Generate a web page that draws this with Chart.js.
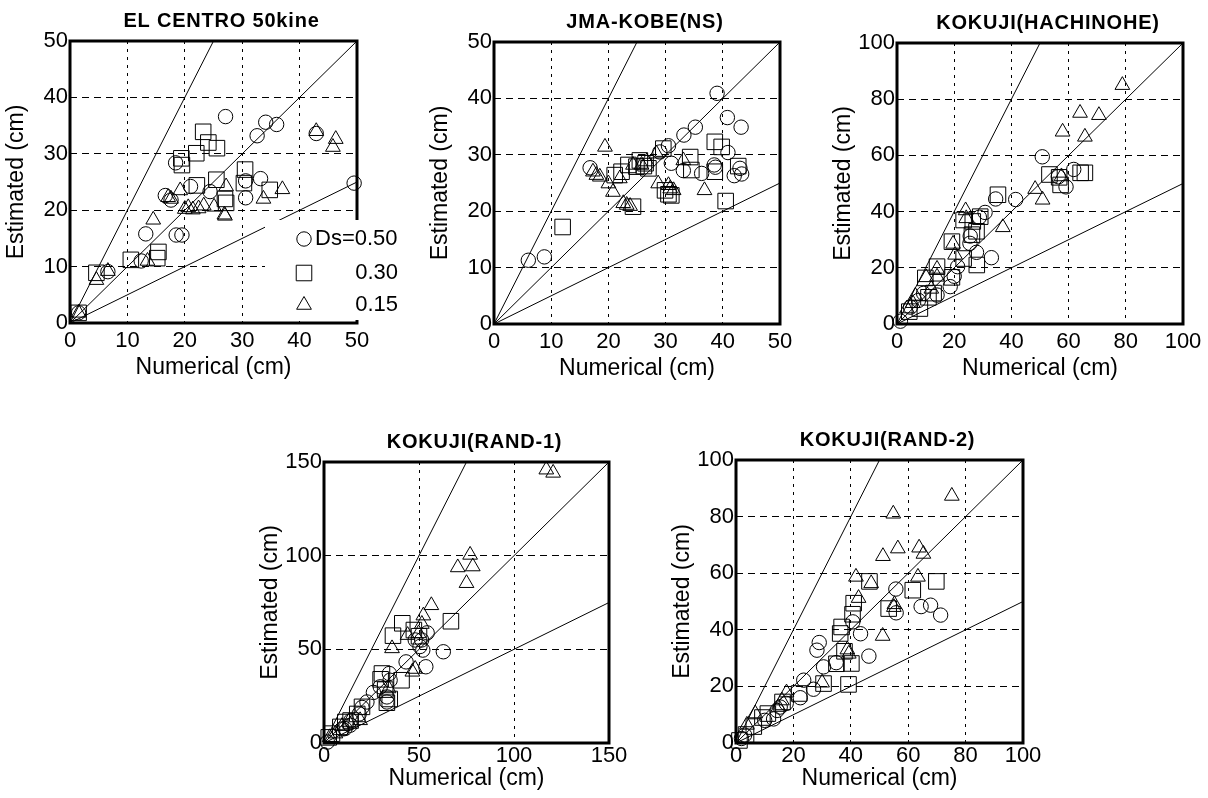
<!DOCTYPE html>
<html>
<head>
<meta charset="utf-8">
<script src="https://cdn.jsdelivr.net/npm/chart.js@4.4.0/dist/chart.umd.min.js"></script>
<style>
	body { margin: 0; background: #fff; width: 1208px; height: 798px; position: relative; overflow: hidden; }
	canvas { position: absolute; }
</style>
</head>
<body>
<canvas id="c1"></canvas>
<canvas id="c2"></canvas>
<canvas id="c3"></canvas>
<canvas id="c4"></canvas>
<canvas id="c5"></canvas>
<script>
// legend labels and the ratio lines (estimated = slope * numerical)
const dsLabels = ["Ds=0.50", "0.30", "0.15"]
const refSlopes = [2, 1, 0.5]

// EL CENTRO 50kine  [numerical, estimated]
const elc050 = [[27.1,36.6],[34.1,35.6],[36.0,35.2],[32.6,33.2],[42.9,33.6],[49.5,24.8],[33.2,25.6],[30.6,25.2],[30.6,22.2],[18.4,28.4],[21.0,24.2],[24.4,23.3],[16.6,22.6],[17.6,21.8],[13.2,15.8],[18.5,15.6],[19.5,15.6],[12.4,11.0],[6.6,9.1],[1.5,1.8]]
const elc030 = [[23.2,33.9],[24.1,32.0],[25.6,31.0],[22.0,30.1],[19.4,29.2],[19.5,28.0],[30.5,27.2],[30.3,24.8],[25.5,25.4],[22.1,24.4],[34.8,23.6],[27.0,22.0],[27.2,21.3],[15.4,12.6],[15.2,11.5],[10.6,11.2],[4.6,8.9],[1.5,1.8]]
const elc015 = [[42.9,34.0],[46.3,32.6],[45.8,31.2],[37.0,23.7],[33.7,22.0],[27.2,24.2],[26.9,19.2],[27.0,19.0],[25.1,20.6],[23.3,20.8],[22.4,20.3],[21.4,20.1],[20.6,20.5],[20.0,20.2],[19.2,23.5],[17.1,22.3],[17.6,22.0],[14.5,18.3],[13.5,11.0],[6.6,9.2],[4.6,7.6],[1.5,1.8]]

// JMA-KOBE(NS)
const kobe050 = [[6.0,11.3],[8.8,11.9],[16.8,27.7],[29.0,30.5],[30.5,31.6],[31.0,28.5],[33.2,33.5],[35.2,34.9],[33.1,27.2],[36.3,26.7],[39.0,40.9],[40.8,36.6],[43.2,34.9],[40.9,30.4],[38.7,27.8],[38.5,28.2],[42.0,26.3],[43.0,27.6],[43.3,26.6]]
const kobe030 = [[12.0,17.2],[40.5,21.8],[38.6,32.3],[39.8,31.4],[34.3,29.6],[34.5,27.3],[42.7,28.0],[38.6,27.0],[29.6,31.1],[25.5,29.0],[24.9,27.9],[26.2,28.0],[27.0,27.6],[26.5,28.5],[23.5,28.2],[22.3,27.0],[21.1,26.4],[24.3,20.8],[29.9,23.7],[31.0,22.8],[30.5,23.0]]
const kobe015 = [[19.4,31.4],[17.3,27.0],[17.9,26.4],[18.5,26.1],[20.0,24.9],[20.8,23.4],[22.0,25.8],[22.6,21.4],[23.2,21.1],[23.8,20.9],[24.3,28.2],[25.8,28.2],[26.7,28.8],[28.4,30.2],[28.7,24.9],[30.5,24.6],[30.8,24.0],[31.4,23.7],[33.1,29.0],[36.8,23.7]]

// KOKUJI(HACHINOHE)
const hachi050 = [[50.8,59.5],[61.8,55.0],[34.5,44.5],[41.5,44.3],[30.8,39.7],[28.8,38.0],[25.6,31.3],[25.5,28.7],[27.8,25.5],[33.0,23.6],[21.2,20.4],[18.6,13.3],[59.1,48.8],[56.4,52.4],[20.0,17.0],[14.0,10.3],[9.3,10.9],[7.5,8.4],[4.7,6.0],[1.2,1.0]]
const hachi030 = [[64.2,53.8],[65.7,53.8],[53.3,53.2],[57.2,49.5],[56.7,52.2],[35.3,46.0],[29.1,38.2],[23.3,37.0],[26.5,36.5],[26.2,31.8],[27.8,33.0],[19.2,29.3],[27.9,21.0],[23.3,23.3],[14.0,20.4],[19.2,16.6],[9.9,16.4],[12.8,11.0],[11.0,9.5],[8.0,5.5],[4.3,4.4]]
const hachi015 = [[78.8,85.0],[64.0,75.1],[70.6,74.3],[57.9,68.4],[65.7,66.6],[48.3,48.0],[50.9,44.2],[37.0,34.4],[24.0,40.4],[24.2,37.6],[19.6,28.5],[20.3,24.6],[14.0,19.6],[14.0,16.8],[10.2,16.6],[12.0,12.5],[6.4,10.0],[5.5,7.4],[3.5,5.5],[57.5,52.5]]

// KOKUJI(RAND-1)
const rand1050 = [[62.8,48.7],[53.6,40.7],[52.0,49.6],[51.4,55.0],[54.3,58.8],[48.0,55.0],[50.5,51.5],[43.2,43.3],[34.4,37.1],[34.8,33.5],[33.1,24.6],[33.1,21.9],[29.6,30.0],[26.0,27.0],[22.6,21.9],[20.0,19.0],[18.5,15.5],[14.2,12.0],[13.8,9.5],[11.0,7.7],[9.5,7.5],[1.8,0.5]]
const rand1030 = [[66.8,65.0],[41.2,63.9],[36.3,57.3],[47.3,60.3],[50.0,57.0],[40.8,33.5],[30.5,37.1],[29.8,34.0],[32.2,28.5],[33.1,21.5],[34.6,23.5],[20.0,19.3],[17.5,15.5],[14.0,12.0],[11.2,11.2],[8.6,8.6],[4.2,5.0],[2.5,3.0]]
const rand1015 = [[117.0,145.9],[120.6,144.2],[76.9,100.4],[70.4,93.7],[78.3,94.2],[75.0,85.3],[56.5,73.5],[52.3,68.0],[51.5,63.5],[49.8,58.5],[44.0,57.6],[35.8,50.5],[48.0,39.5],[46.5,38.0],[34.0,29.1],[19.0,12.1],[13.0,11.2],[9.5,9.0],[6.0,5.0],[3.0,3.0]]

// KOKUJI(RAND-2)
const rand2050 = [[55.7,54.4],[55.8,46.0],[64.5,48.2],[67.8,48.7],[71.3,45.2],[40.7,42.8],[43.4,38.6],[29.0,35.5],[28.2,32.8],[46.3,30.7],[34.9,28.4],[30.5,26.9],[23.6,22.2],[27.0,19.0],[22.4,16.0],[17.5,14.0],[15.4,12.7],[14.3,11.5],[13.1,8.5],[10.0,8.0],[3.0,2.8],[1.9,1.6]]
const rand2030 = [[69.8,57.1],[61.6,54.0],[53.2,47.5],[46.5,57.1],[41.0,49.4],[40.6,45.5],[36.8,41.0],[36.3,38.7],[37.8,32.4],[40.2,28.1],[39.2,20.7],[30.5,21.0],[35.0,28.0],[22.0,17.5],[16.2,14.5],[11.1,10.4],[9.2,9.0],[6.2,5.8],[3.5,3.0],[1.2,0.9]]
const rand2015 = [[75.2,87.3],[54.8,81.0],[56.4,68.7],[51.2,66.0],[63.8,69.0],[65.3,66.8],[63.4,58.7],[41.8,58.7],[47.1,56.4],[42.7,51.2],[55.2,49.0],[55.0,48.0],[51.1,37.8],[38.8,33.0],[39.3,31.5],[30.0,21.3],[17.6,17.8],[16.0,15.0],[14.8,12.7],[6.7,10.4],[3.8,6.4]]

const FONT = "'Liberation Sans', Arial, sans-serif"

// panel setup: plot box on the page [left, top, right, bottom]
const panels = [
	{id: "c1", title: "EL CENTRO 50kine", max: 50, step: 10, series: [elc050, elc030, elc015], box: [70, 41, 357, 323], top: true, legend: true},
	{id: "c2", title: "JMA-KOBE(NS)", max: 50, step: 10, series: [kobe050, kobe030, kobe015], box: [494, 42, 780, 324], top: true},
	{id: "c3", title: "KOKUJI(HACHINOHE)", max: 100, step: 20, series: [hachi050, hachi030, hachi015], box: [897, 43, 1183, 324], top: true},
	{id: "c4", title: "KOKUJI(RAND-1)", max: 150, step: 50, series: [rand1050, rand1030, rand1015], box: [324, 462, 609, 743]},
	{id: "c5", title: "KOKUJI(RAND-2)", max: 100, step: 20, series: [rand2050, rand2030, rand2015], box: [736, 460, 1023, 743]}
]

const markers = [
	{style: "circle", r: 7.2},
	{style: "rect", r: 11},
	{style: "triangle", r: 8.5}
]

const Y_W = 70, PAD_T = 40

// draw a hollow marker by hand (used for the legend)
drawMarker = (ctx, style, x, y, r) => {
	ctx.beginPath()
	if (style === "circle") {
		ctx.arc(x, y, r, 0, Math.PI * 2)
	} else if (style === "rect") {
		const s = r * Math.SQRT1_2
		ctx.rect(x - s, y - s, 2 * s, 2 * s)
	} else {
		ctx.moveTo(x, y - r)
		ctx.lineTo(x + r * Math.sin(Math.PI * 2 / 3), y - r * Math.cos(Math.PI * 2 / 3))
		ctx.lineTo(x + r * Math.sin(Math.PI * 4 / 3), y - r * Math.cos(Math.PI * 4 / 3))
		ctx.closePath()
	}
	ctx.stroke()
}

// thick frame, title and (panel 1 only) the legend block
const framePlugin = {
	id: "frame",
	beforeDatasetsDraw(chart) {
		const a = chart.chartArea, ctx = chart.ctx
		ctx.save()
		ctx.strokeStyle = "#000"
		ctx.lineWidth = 3
		ctx.strokeRect(a.left, a.top, a.right - a.left, a.bottom - a.top)
		ctx.restore()
	},
	afterDraw(chart) {
		const a = chart.chartArea, ctx = chart.ctx
		const p = chart.options.plugins.frame
		ctx.save()
		ctx.fillStyle = "#000"
		ctx.font = "bold 20px " + FONT
		ctx.letterSpacing = "0.8px"
		ctx.textAlign = "center"
		ctx.textBaseline = "middle"
		ctx.fillText(p.title, (a.left + a.right) / 2 + 8, a.top - 20)
		ctx.letterSpacing = "0px"
		if (p.legend) {
			ctx.fillStyle = "#fff"
			ctx.fillRect(a.left + 195, a.top + 179, chart.width - a.left - 195, 100)
			ctx.strokeStyle = "#000"
			ctx.lineWidth = 1
			ctx.fillStyle = "#000"
			ctx.font = "22px " + FONT
			const rows = [198, 232, 264]
			dsLabels.forEach((label, i) => {
				const y = a.top + rows[i]
				drawMarker(ctx, markers[i].style, a.left + 234, y, markers[i].r)
				if (i === 0) {
					ctx.textAlign = "left"
					ctx.fillText(label, a.left + 245, y)
				} else {
					ctx.textAlign = "right"
					ctx.fillText(label, a.left + 328, y)
				}
			})
		}
		ctx.restore()
	}
}

panels.forEach(p => {
	const [l, t, r, b] = p.box
	const xH = p.top ? 59 : 50
	const padR = p.legend ? 50 : 25
	const canvas = document.getElementById(p.id)
	canvas.style.left = (l - Y_W) + "px"
	canvas.style.top = (t - PAD_T) + "px"
	canvas.width = (r - l) + Y_W + padR
	canvas.height = (b - t) + PAD_T + xH

	const datasets = []
	p.series.forEach((pts, i) => {
		datasets.push({
			label: dsLabels[i],
			data: pts.map(([x, y]) => ({x: x, y: y})),
			pointStyle: markers[i].style,
			pointRadius: markers[i].r,
			borderColor: "#000",
			borderWidth: 1,
			backgroundColor: "rgba(0,0,0,0)",
			showLine: false,
			clip: false
		})
	})
	refSlopes.forEach(s => {
		datasets.push({
			label: "ratio " + s,
			data: [{x: 0, y: 0}, {x: p.max / Math.max(s, 1), y: p.max * Math.min(s, 1)}],
			showLine: true,
			borderColor: "#000",
			borderWidth: 1,
			pointRadius: 0,
			fill: false
		})
	})

	new Chart(canvas, {
		type: "scatter",
		data: {datasets: datasets},
		options: {
			responsive: false,
			animation: false,
			events: [],
			layout: {padding: {top: PAD_T, right: padR, left: 0, bottom: 0}},
			plugins: {
				legend: {display: false},
				tooltip: {enabled: false},
				frame: {title: p.title, legend: p.legend}
			},
			scales: {
				x: {
					type: "linear", min: 0, max: p.max,
					afterFit: s => { s.height = xH },
					ticks: {stepSize: p.step, color: "#000", font: {family: FONT, size: 22}, padding: p.top ? 5 : 0, maxRotation: 0, autoSkip: false},
					grid: {color: "#000", lineWidth: 1, drawTicks: false},
					border: {display: false, dash: [3, 5]},
					title: {display: true, text: "Numerical (cm)", color: "#000", font: {family: FONT, size: 23}, padding: {top: 0, bottom: 1}}
				},
				y: {
					type: "linear", min: 0, max: p.max,
					afterFit: s => { s.width = Y_W },
					ticks: {stepSize: p.step, color: "#000", font: {family: FONT, size: 22}, padding: 2, autoSkip: false},
					grid: {color: "#000", lineWidth: 1, drawTicks: false},
					border: {display: false, dash: [7, 5]},
					title: {display: true, text: "Estimated (cm)", color: "#000", font: {family: FONT, size: 23}, padding: {top: 3, bottom: 0}}
				}
			}
		},
		plugins: [framePlugin]
	})
})
</script>
</body>
</html>
